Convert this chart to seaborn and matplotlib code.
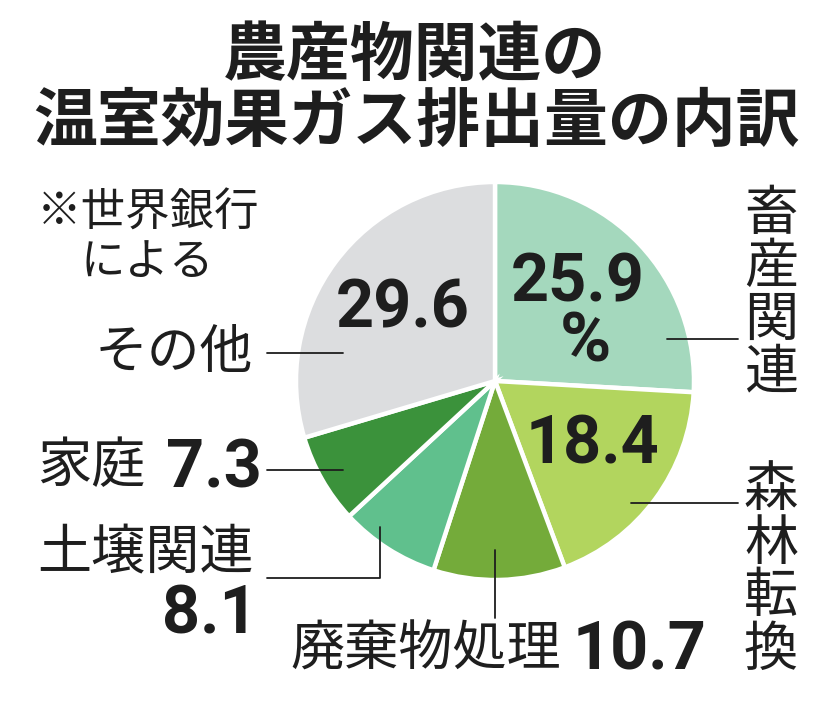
import matplotlib
matplotlib.use("Agg")
import matplotlib.pyplot as plt
import seaborn as sns

# ---- data ----
categories = ["畜産関連", "森林転換", "廃棄物処理", "土壌関連", "家庭", "その他"]
values = [25.9, 18.4, 10.7, 8.1, 7.3, 29.6]
value_labels = ["25.9", "18.4", "10.7", "8.1", "7.3", "29.6"]
colors = ["#a4d8bd", "#b2d55e", "#74ab3a", "#60c08d", "#3b923b", "#dcdddf"]
title_lines = ["農産物関連の", "温室効果ガス排出量の内訳"]
source_lines = ["※世界銀行", "による"]

sns.set_theme(style="white")
plt.rcParams["font.family"] = ["Noto Sans CJK JP", "DejaVu Sans"]

W, H = 831, 702
fig = plt.figure(figsize=(W / 100, H / 100), dpi=100)
ax = fig.add_axes([0, 0, 1, 1])

def Y(py):
    return H - py

pal = sns.color_palette(colors)
ax.pie(values, colors=pal, startangle=90, counterclock=False,
       center=(495, Y(381)), radius=199,
       wedgeprops=dict(edgecolor="white", linewidth=3.2))
ax.set_xlim(0, W)
ax.set_ylim(0, H)
ax.set_aspect("equal")
ax.axis("off")

black = "#1e1e1e"
CJK = ["Noto Sans CJK JP", "DejaVu Sans"]
NUM = ["Roboto", "DejaVu Sans"]

# title
ax.text(415, Y(56), title_lines[0], ha="center", va="center", fontsize=46,
        fontweight="bold", family=CJK, color=black)
ax.text(416, Y(122), title_lines[1], ha="center", va="center", fontsize=46,
        fontweight="bold", family=CJK, color=black)

# source note
ax.text(37, Y(213), source_lines[0], ha="left", va="center", fontsize=32,
        family=CJK, color=black)
ax.text(80, Y(262), source_lines[1], ha="left", va="center", fontsize=32,
        family=CJK, color=black)

lab_fs = 39
num_fs = 48

# values inside pie
ax.text(403, Y(310), value_labels[5], ha="center", va="center", fontsize=num_fs,
        fontweight="bold", family=NUM, color=black)
ax.text(578, Y(283), value_labels[0], ha="center", va="center", fontsize=num_fs,
        fontweight="bold", family=NUM, color=black)
ax.text(585, Y(343), "%", ha="center", va="center", fontsize=num_fs + 2,
        fontweight="bold", family=NUM, color=black)
ax.text(592, Y(446), value_labels[1], ha="center", va="center", fontsize=num_fs,
        fontweight="bold", family=NUM, color=black)

# left labels
ax.text(253, Y(353), categories[5], ha="right", va="center", fontsize=38,
        family=CJK, color=black)
ax.text(37, Y(467), categories[4], ha="left", va="center", fontsize=lab_fs,
        family=CJK, color=black)
ax.text(214, Y(469), value_labels[4], ha="center", va="center", fontsize=num_fs,
        fontweight="bold", family=NUM, color=black)
ax.text(37, Y(554), categories[3], ha="left", va="center", fontsize=lab_fs,
        family=CJK, color=black)
ax.text(210, Y(616), value_labels[3], ha="center", va="center", fontsize=num_fs,
        fontweight="bold", family=NUM, color=black)
ax.text(290, Y(650), categories[2], ha="left", va="center", fontsize=lab_fs,
        family=CJK, color=black)
ax.text(640, Y(652), value_labels[2], ha="center", va="center", fontsize=num_fs,
        fontweight="bold", family=NUM, color=black)

# right vertical labels
for i, ch in enumerate(categories[0]):
    ax.text(771, Y(214 + 53 * i), ch, ha="center", va="center", fontsize=lab_fs,
            family=CJK, color=black)
for i, ch in enumerate(categories[1]):
    ax.text(771, Y(491 + 53 * i), ch, ha="center", va="center", fontsize=lab_fs,
            family=CJK, color=black)

# leader lines
lw = 1.3
ax.plot([267, 343], [Y(353), Y(353)], color=black, lw=lw)
ax.plot([267, 343], [Y(470), Y(470)], color=black, lw=lw)
ax.plot([267, 380, 380], [Y(578), Y(578), Y(527)], color=black, lw=lw)
ax.plot([495, 495], [Y(550), Y(618)], color=black, lw=lw)
ax.plot([667, 738], [Y(339), Y(339)], color=black, lw=lw)
ax.plot([631, 738], [Y(503), Y(503)], color=black, lw=lw)

fig.savefig("out.png", dpi=100, facecolor="white")
